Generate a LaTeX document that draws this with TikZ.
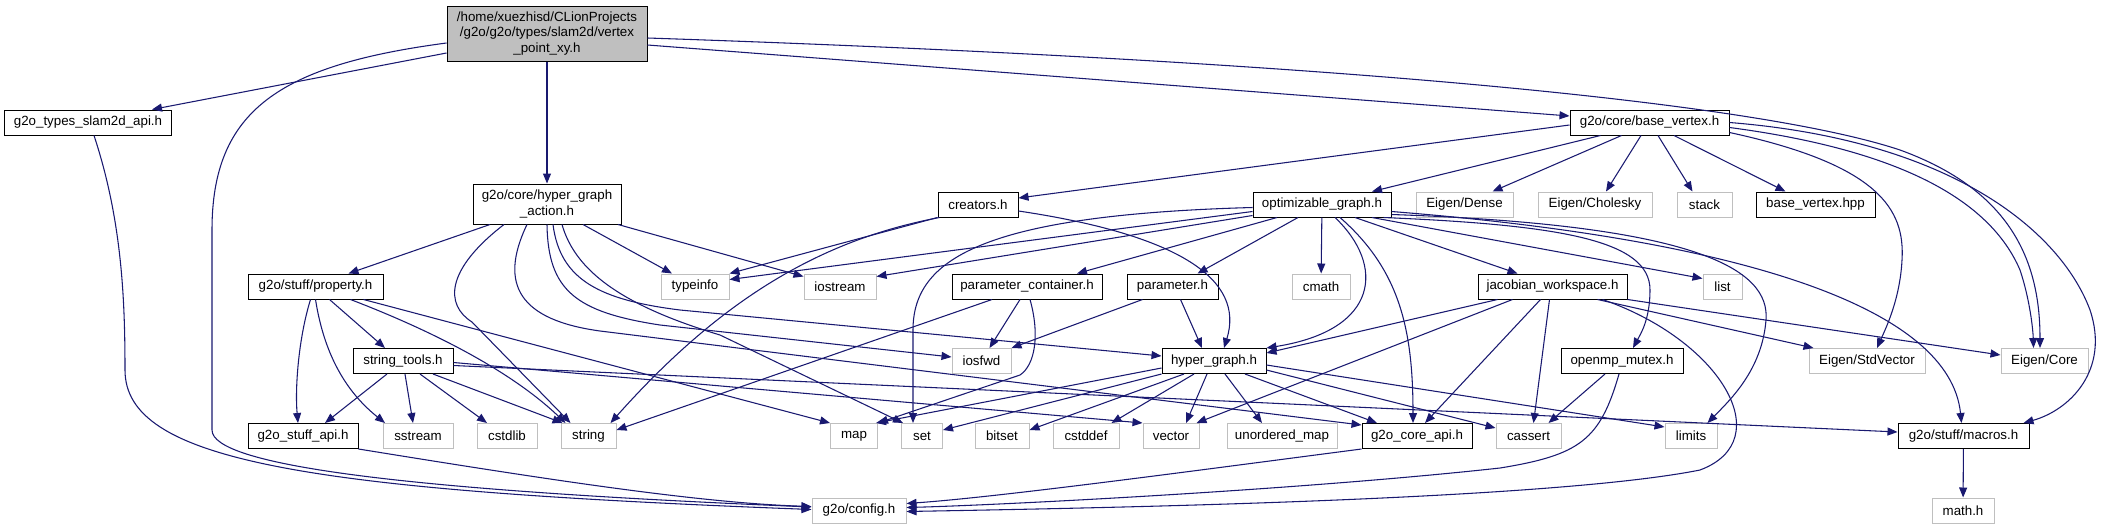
\documentclass[tikz,border=0pt]{standalone}
\usepackage{fontspec}
\setmainfont{Liberation Sans}
\usetikzlibrary{arrows.meta}
\definecolor{edgeblue}{RGB}{25,25,112}
\definecolor{boxgray}{RGB}{191,191,191}

\begin{document}
\begin{tikzpicture}[x=0.75pt,y=-0.75pt,
  hdr/.style={draw=black,fill=white,line width=0.75pt,inner sep=0pt,minimum height=18.75pt,align=center,font=\fontsize{10}{11.6}\selectfont},
  ext/.style={hdr,draw=boxgray},
  bw/.style={minimum width=#1*0.75pt},
  dep/.style={edgeblue,line width=0.8pt,-{Triangle[length=7.5pt,width=6pt]}}]
\useasboundingbox (0,0) rectangle (2109,529);

\node[hdr,fill=boxgray,bw=200,minimum height=41.25pt] (main) at (547,33.5) {/home/xuezhisd/CLionProjects\\/g2o/g2o/types/slam2d/vertex\\\_point\_xy.h};
\node[hdr,bw=167] (slam) at (88,122.5) {g2o\_types\_slam2d\_api.h};
\node[hdr,bw=159] (bv) at (1649.5,122.5) {g2o/core/base\_vertex.h};
\node[hdr,bw=148,minimum height=30pt] (hga) at (547,204) {g2o/core/hyper\_graph\\\_action.h};
\node[hdr,bw=80] (cre) at (978,204.5) {creators.h};
\node[hdr,bw=138] (opt) at (1322,204.5) {optimizable\_graph.h};
\node[ext,bw=97] (dense) at (1464.5,204.5) {Eigen/Dense};
\node[ext,bw=114] (chol) at (1595,204.5) {Eigen/Cholesky};
\node[ext,bw=55] (stack) at (1704.5,204.5) {stack};
\node[hdr,bw=119] (bvhpp) at (1815.5,204.5) {base\_vertex.hpp};
\node[hdr,bw=135] (prop) at (315.5,286.5) {g2o/stuff/property.h};
\node[ext,bw=68] (typeinfo) at (695,286.5) {typeinfo};
\node[ext,bw=72] (iostream) at (840,286.5) {iostream};
\node[hdr,bw=150] (pcont) at (1027,286.5) {parameter\_container.h};
\node[hdr,bw=91] (param) at (1172.5,286.5) {parameter.h};
\node[ext,bw=58] (cmath) at (1321,286.5) {cmath};
\node[hdr,bw=149] (jac) at (1552.5,286.5) {jacobian\_workspace.h};
\node[ext,bw=39] (list) at (1722.5,286.5) {list};
\node[hdr,bw=100] (strt) at (403,361) {string\_tools.h};
\node[ext,bw=59] (iosfwd) at (981.5,361) {iosfwd};
\node[hdr,bw=104] (hg) at (1214,361) {hyper\_graph.h};
\node[hdr,bw=122] (omp) at (1622,361) {openmp\_mutex.h};
\node[ext,bw=116] (stdvec) at (1867,361) {Eigen/StdVector};
\node[ext,bw=87] (ecore) at (2044.5,361) {Eigen/Core};
\node[hdr,bw=110] (sapi) at (303,436) {g2o\_stuff\_api.h};
\node[ext,bw=70] (sstream) at (418,436) {sstream};
\node[ext,bw=60] (cstdlib) at (507,436) {cstdlib};
\node[ext,bw=55] (string) at (588.5,436) {string};
\node[ext,bw=47] (map) at (854,436) {map};
\node[ext,bw=41] (set) at (922,436) {set};
\node[ext,bw=54] (bitset) at (1002,436) {bitset};
\node[ext,bw=66] (cstddef) at (1086,436) {cstddef};
\node[ext,bw=56] (vector) at (1171,436) {vector};
\node[ext,bw=110] (umap) at (1282,436) {unordered\_map};
\node[hdr,bw=110] (capi) at (1417,436) {g2o\_core\_api.h};
\node[ext,bw=65] (cassert) at (1528.5,436) {cassert};
\node[ext,bw=52] (limits) at (1691,436) {limits};
\node[hdr,bw=131] (macros) at (1963.5,436) {g2o/stuff/macros.h};
\node[ext,bw=94] (config) at (859,510.5) {g2o/config.h};
\node[ext,bw=62] (mathh) at (1963,510.5) {math.h};

\draw[dep] ([shift={(0,19.5)}]main.west) -- ([shift={(64,0)}]slam.north);
\draw[dep] ([shift={(0,9.5)}]main.west) .. controls (280,65) and (212,110) .. (212,230) -- (212,430) .. controls (212,465) and (400,490) .. ([shift={(0,-3.5)}]config.west);
\draw[dep] (main) -- (hga);
\draw[dep] ([shift={(0,11.5)}]main.east) -- ([shift={(0,-6.5)}]bv.west);
\draw[dep] ([shift={(0,4.5)}]main.east) .. controls (1300,60) and (1750,100) .. (1900,150) .. controls (2010,190) and (2040,260) .. ([shift={(-4.5,0)}]ecore.north);
\draw[dep] ([shift={(6,0)}]slam.south) .. controls (122,220) and (125,300) .. (125,370) .. controls (125,460) and (300,490) .. ([shift={(0,-1)}]config.west);

\draw[dep] ([shift={(0,2.5)}]bv.west) -- ([shift={(0,-6.5)}]cre.east);
\draw[dep] ([shift={(-49,0)}]bv.south) -- ([shift={(50,0)}]opt.north);
\draw[dep] ([shift={(-28,0)}]bv.south) -- ([shift={(28,0)}]dense.north);
\draw[dep] ([shift={(-8.5,0)}]bv.south) -- ([shift={(11,0)}]chol.north);
\draw[dep] ([shift={(8.5,0)}]bv.south) -- ([shift={(-12,0)}]stack.north);
\draw[dep] ([shift={(24.5,0)}]bv.south) -- ([shift={(-30,0)}]bvhpp.north);
\draw[dep] ([shift={(0,10)}]bv.east) .. controls (1880,165) and (1905,210) .. (1902,260) .. controls (1900,300) and (1885,330) .. ([shift={(10,0)}]stdvec.north);
\draw[dep] ([shift={(0,5)}]bv.east) .. controls (1900,150) and (1990,200) .. (2020,270) .. controls (2030,300) and (2033,330) .. ([shift={(-11,0)}]ecore.north);
\draw[dep] (bv.east) .. controls (1950,140) and (2060,230) .. (2090,310) .. controls (2110,370) and (2070,410) .. ([shift={(60,0)}]macros.north);

\draw[dep] (cre.south west) -- (typeinfo.north east);
\draw[dep] ([shift={(2,0)}]cre.south west) .. controls (820,240) and (720,300) .. ([shift={(-6,0)}]string.north east);
\draw[dep] ([shift={(0,6.5)}]cre.east) .. controls (1180,235) and (1245,280) .. ([shift={(10,0)}]hg.north);

\draw[dep] ([shift={(0,7)}]opt.west) -- ([shift={(0,-7)}]typeinfo.east);
\draw[dep] ([shift={(0,11)}]opt.west) -- ([shift={(0,-10)}]iostream.east);
\draw[dep] ([shift={(0,3)}]opt.west) .. controls (980,215) and (913,260) .. (913,330) -- ([shift={(-9,0)}]set.north);
\draw[dep] ([shift={(-45,0)}]opt.south) -- ([shift={(50,0)}]pcont.north);
\draw[dep] ([shift={(-24,0)}]opt.south) -- ([shift={(25,0)}]param.north);
\draw[dep] (opt) -- (cmath);
\draw[dep] ([shift={(13,0)}]opt.south) .. controls (1385,265) and (1380,330) .. (hg.north east);
\draw[dep] ([shift={(18,0)}]opt.south) .. controls (1400,270) and (1413,330) .. ([shift={(-4,0)}]capi.north);
\draw[dep] ([shift={(33,0)}]opt.south) -- ([shift={(-35,0)}]jac.north);
\draw[dep] ([shift={(50,0)}]opt.south) -- ([shift={(0,-8)}]list.west);
\draw[dep] ([shift={(-8,0)}]opt.south east) .. controls (1560,225) and (1650,240) .. (1650,290) .. controls (1650,320) and (1640,335) .. ([shift={(11,0)}]omp.north);
\draw[dep] ([shift={(0,10)}]opt.east) .. controls (1700,225) and (1770,270) .. (1766,320) .. controls (1762,370) and (1730,400) .. ([shift={(-10,0)}]limits.north east);
\draw[dep] ([shift={(0,7)}]opt.east) .. controls (1750,240) and (1950,310) .. ([shift={(-2,0)}]macros.north);

\draw[dep] ([shift={(-57,0)}]hga.south) -- ([shift={(33,0)}]prop.north);
\draw[dep] ([shift={(36,0)}]hga.south) -- ([shift={(-23,0)}]typeinfo.north);
\draw[dep] ([shift={(71,0)}]hga.south) -- ([shift={(0,-10)}]iostream.west);
\draw[dep] ([shift={(-43,0)}]hga.south) .. controls (445,270) and (445,305) .. (472,322) -- ([shift={(-18,0)}]string.north);
\draw[dep] ([shift={(-20,0)}]hga.south) .. controls (498,285) and (520,320) .. (600,331) -- ([shift={(0,2)}]capi.north west);
\draw[dep] (hga.south) .. controls (548,290) and (575,312) .. (660,325) -- ([shift={(0,-4)}]iosfwd.west);
\draw[dep] ([shift={(6,0)}]hga.south) .. controls (560,280) and (600,300) .. (680,310) -- ([shift={(0,-5)}]hg.west);
\draw[dep] ([shift={(15,0)}]hga.south) .. controls (575,270) and (620,305) .. (720,335) -- ([shift={(2,0)}]set.north west);

\draw[dep] ([shift={(-5,0)}]prop.south) .. controls (298,340) and (295,390) .. ([shift={(-5,0)}]sapi.north);
\draw[dep] (prop.south) .. controls (325,360) and (350,395) .. ([shift={(-33,0)}]sstream.north);
\draw[dep] ([shift={(14,0)}]prop.south) -- ([shift={(-18,0)}]strt.north);
\draw[dep] ([shift={(35,0)}]prop.south) .. controls (430,330) and (510,370) .. ([shift={(-23,0)}]string.north);
\draw[dep] ([shift={(-20,0)}]prop.south east) -- (map.north west);

\draw[dep] ([shift={(-16,0)}]strt.south) -- ([shift={(22,0)}]sapi.north);
\draw[dep] ([shift={(2,0)}]strt.south) -- ([shift={(-5,0)}]sstream.north);
\draw[dep] ([shift={(17,0)}]strt.south) -- ([shift={(-20,0)}]cstdlib.north);
\draw[dep] ([shift={(30,0)}]strt.south) -- ([shift={(-26,0)}]string.north);
\draw[dep] ([shift={(0,1.5)}]strt.east) -- (vector.north west);
\draw[dep] ([shift={(0,4.5)}]strt.east) -- ([shift={(0,-4)}]macros.west);
\draw[dep] (sapi.south east) .. controls (550,480) and (700,503) .. ([shift={(0,-4)}]config.west);

\draw[dep] ([shift={(-7,0)}]pcont.south) -- ([shift={(8,0)}]iosfwd.north);
\draw[dep] ([shift={(3,0)}]pcont.south) .. controls (1040,335) and (1035,365) .. (1020,375) -- (map.north east);
\draw[dep] ([shift={(-35,0)}]pcont.south) -- ([shift={(0,-6)}]string.east);
\draw[dep] ([shift={(-30,0)}]param.south) -- (iosfwd.north east);
\draw[dep] ([shift={(8,0)}]param.south) -- ([shift={(-12,0)}]hg.north);

\draw[dep] ([shift={(-55,0)}]jac.south) -- ([shift={(0,-8)}]hg.east);
\draw[dep] ([shift={(-40,0)}]jac.south) -- ([shift={(-3,0)}]vector.north east);
\draw[dep] ([shift={(-12,0)}]jac.south) -- ([shift={(8,0)}]capi.north);
\draw[dep] ([shift={(-3,0)}]jac.south) -- ([shift={(5,0)}]cassert.north);
\draw[dep] ([shift={(50,0)}]jac.south) .. controls (1720,340) and (1780,440) .. (1700,470) .. controls (1550,500) and (1100,508) .. ([shift={(0,1)}]config.east);
\draw[dep] ([shift={(45,0)}]jac.south) -- ([shift={(5,0)}]stdvec.north west);
\draw[dep] (jac.south east) -- ([shift={(0,-6)}]ecore.west);
\draw[dep] ([shift={(-17,0)}]omp.south) -- ([shift={(20,0)}]cassert.north);
\draw[dep] ([shift={(-3,0)}]omp.south) .. controls (1600,440) and (1580,455) .. (1500,468) .. controls (1300,490) and (1000,505) .. ([shift={(0,-3)}]config.east);

\draw[dep] ([shift={(0,7)}]hg.west) -- ([shift={(-2,0)}]map.north east);
\draw[dep] (hg.south west) -- ([shift={(0,-6)}]set.east);
\draw[dep] ([shift={(-30,0)}]hg.south) -- ([shift={(0,-6)}]bitset.east);
\draw[dep] ([shift={(-20,0)}]hg.south) -- ([shift={(-8,0)}]cstddef.north east);
\draw[dep] ([shift={(-7,0)}]hg.south) -- ([shift={(15,0)}]vector.north);
\draw[dep] ([shift={(11,0)}]hg.south) -- ([shift={(-20,0)}]umap.north);
\draw[dep] ([shift={(31,0)}]hg.south) -- ([shift={(-40,0)}]capi.north);
\draw[dep] ([shift={(0,9)}]hg.east) -- ([shift={(0,-8)}]cassert.west);
\draw[dep] ([shift={(0,4)}]hg.east) -- ([shift={(0,-9)}]limits.west);
\draw[dep] (capi.south west) .. controls (1200,470) and (1000,497) .. ([shift={(0,-7)}]config.east);
\draw[dep] (macros) -- (mathh);
\end{tikzpicture}
\end{document}
